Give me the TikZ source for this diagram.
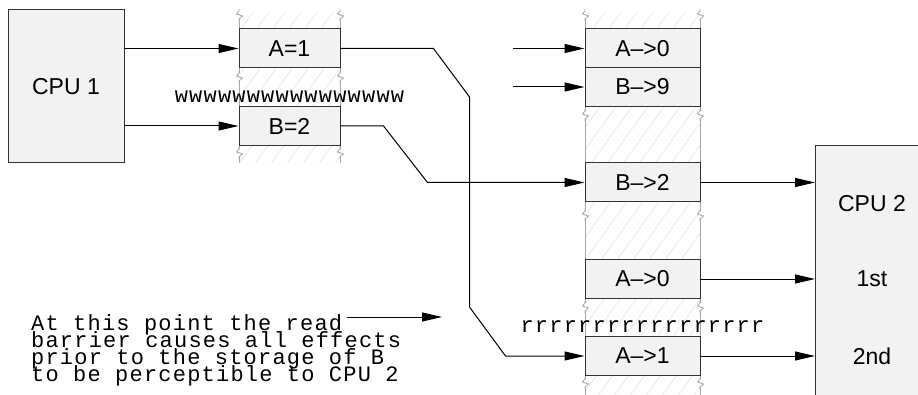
\documentclass[tikz,border=0pt]{standalone}
\usepackage{fontspec}
\setmainfont{Liberation Sans}
\setmonofont{Liberation Mono}[LetterSpace=5.5]
\usetikzlibrary{arrows.meta}
\definecolor{cellfill}{HTML}{F2F2F2}
\definecolor{edgeline}{HTML}{333333}
\definecolor{colline}{HTML}{A6A6A6}
\definecolor{hatchline}{HTML}{E2E2E2}
\newcommand{\tightlines}{\lineskiplimit=-100pt\relax}

\begin{document}
\begin{tikzpicture}[x=1pt, y=1pt,
  cell/.style={draw=edgeline, line width=1pt, fill=cellfill, minimum width=101pt, minimum height=39pt, inner sep=0pt, font=\fontsize{23}{27}\selectfont},
  rcell/.style={cell, minimum width=115pt},
  cpu/.style={draw=edgeline, line width=1pt, fill=cellfill, inner sep=0pt, font=\fontsize{23}{27}\selectfont},
  lbl/.style={inner sep=0pt, font=\fontsize{23}{27}\selectfont},
  arr/.style={-{Triangle[length=20pt, width=9pt]}, line width=1pt, black},
  mono/.style={font=\ttfamily\fontsize{22}{17}\selectfont\tightlines, inner sep=0pt},
  brk/.pic={\fill[white] (-1,-4) rectangle (1,4);
    \draw[colline, line width=0.8pt] (0,6) -- (0,4) -- (-2.5,1) -- (3.5,-1) -- (0,-4) -- (0,-6);}
]
  \clip (0,0) rectangle (918,394);

  % hatched memory columns
  \begin{scope}
    \clip (239,231) rectangle (340,382) (585,-5) rectangle (700,382);
    \foreach \k in {-4,...,45}
      \draw[hatchline, line width=0.6pt] (\k*16,-10) -- ++(300,412.5);
  \end{scope}
  \draw[colline, line width=0.8pt] (239,231) -- (239,382) (340,231) -- (340,382)
    (585,-5) -- (585,382) (700,-5) -- (700,382);
  \foreach \y in {379,317,241}
    \path (239,\y) pic {brk} (340,\y) pic {brk};
  \foreach \y in {379,279,179,87,11}
    \path (585,\y) pic {brk} (700,\y) pic {brk};

  % CPU 1 and its stores
  \node[cpu, minimum width=116pt, minimum height=153pt] (cpu1) at (66,307.5) {CPU 1};
  \node[cell] (a1) at (289.5,345.5) {A=1};
  \node[cell] (b2) at (289.5,268) {B=2};
  \node[mono] (wbar) at (289.5,297) {wwwwwwwwwwwwwwww};

  % loads seen by CPU 2
  \node[rcell] (ra0) at (642.5,345.5) {A–>0};
  \node[rcell] (rb9) at (642.5,307) {B–>9};
  \node[rcell] (rb2) at (642.5,211.5) {B–>2};
  \node[rcell] (ra0b) at (642.5,115) {A–>0};
  \node[mono] (rbar) at (642.5,67) {rrrrrrrrrrrrrrrrr};
  \node[rcell] (ra1) at (642.5,38) {A–>1};

  \node[cpu, minimum width=130pt, minimum height=280pt, anchor=north west] (cpu2) at (815,249) {};
  \node[lbl] (cpu2name) at (872,190) {CPU 2};
  \node[lbl] (first) at (872,115) {1st};
  \node[lbl] (second) at (872,38) {2nd};

  \node[mono, anchor=base west, align=left] (note) at (31,13)
    {At this point the read\\barrier causes all effects\\prior to the storage of B\\to be perceptible to CPU 2};

  \coordinate (ina) at (513,345.5);
  \coordinate (inb) at (513,307);
  \coordinate (notefrom) at (347,77);
  \coordinate (noteto) at (442,77);

  \draw[arr] (cpu1.east |- a1) -- (a1.west);
  \draw[arr] (cpu1.east |- b2) -- (b2.west);
  \draw[arr] (a1.east) -- ++(93,0) -- ++(36,-48.5) -- ++(0,-210) -- ++(36,-49) -- (ra1.west);
  \draw[arr] (b2.east) -- ++(43,0) -- ++(44,-56.5) -- (rb2.west);
  \draw[arr] (ina) -- (ra0.west);
  \draw[arr] (inb) -- (rb9.west);
  \draw[arr] (rb2.east) -- (cpu2.west |- rb2);
  \draw[arr] (ra0b.east) -- (cpu2.west |- ra0b);
  \draw[arr] (ra1.east) -- (cpu2.west |- ra1);
  \draw[arr] (notefrom) -- (noteto);
\end{tikzpicture}
\end{document}
